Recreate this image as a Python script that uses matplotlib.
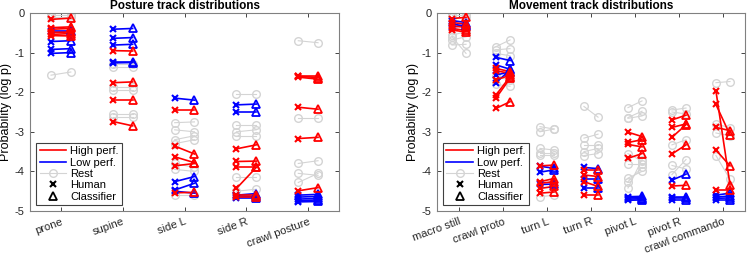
import matplotlib.pyplot as plt
from matplotlib.lines import Line2D

plt.rcParams['font.family'] = ['Liberation Sans', 'DejaVu Sans']
plt.rcParams['axes.unicode_minus'] = False

posture_cats = ["prone", "supine", "side L", "side R", "crawl posture"]
movement_cats = ["macro still", "crawl proto", "turn L", "turn R", "pivot L", "pivot R", "crawl commando"]

# each entry: one category, human values and classifier values (log p)
posture_high_h = [[-0.16, -0.37, -0.41, -0.49, -0.54, -0.57], [-0.95, -1.76, -2.2, -2.74],
                  [-2.45, -3.36, -3.63, -3.86, -4.54], [-3.43, -3.75, -3.9, -4.43, -4.64, -4.6],
                  [-1.59, -1.62, -1.6, -2.38, -3.17, -4.49]]
posture_high_c = [[-0.13, -0.35, -0.39, -0.48, -0.52, -0.58], [-0.96, -1.74, -2.2, -2.85],
                  [-2.45, -3.56, -3.78, -3.8, -4.53], [-3.33, -3.74, -3.9, -3.9, -4.64, -4.6],
                  [-1.59, -1.67, -1.63, -2.43, -3.14, -4.41]]
posture_low_h = [[-0.45, -0.72, -0.92, -1.02], [-0.41, -0.64, -0.81, -1.23, -1.26],
                 [-2.15, -4.26, -4.47, -4.5], [-2.32, -2.49, -4.6, -4.62, -4.68],
                 [-4.6, -4.65, -4.7, -4.74, -4.77]]
posture_low_c = [[-0.45, -0.7, -0.9, -1.0], [-0.39, -0.62, -0.79, -1.23, -1.25],
                 [-2.2, -4.13, -4.3, -4.55], [-2.3, -2.49, -4.56, -4.63, -4.68],
                 [-4.58, -4.63, -4.68, -4.72, -4.76]]
posture_rest_h = [[-0.05, -0.1, -1.57], [-1.28, -1.36, -1.86, -1.94, -2.55, -2.62],
                  [-2.77, -2.95, -3.2, -3.3, -3.8, -3.95, -4.6], [-2.05, -2.83, -3.0, -3.1, -4.13, -4.5],
                  [-0.7, -2.64, -3.8, -4.05, -4.28]]
posture_rest_c = [[-0.05, -0.1, -1.49], [-1.28, -1.36, -1.86, -1.94, -2.55, -2.62],
                  [-2.75, -3.0, -3.1, -3.2, -3.9, -4.0, -4.6], [-2.05, -2.83, -2.95, -3.1, -4.13, -4.45],
                  [-0.75, -2.64, -3.73, -4.1, -4.05]]

movement_high_h = [[-0.14, -0.24, -0.33, -0.39, -0.43], [-1.40, -1.46, -1.69, -2.07, -2.15, -2.41],
                   [-3.86, -4.26, -4.3, -4.43, -4.55], [-3.96, -4.09, -4.26, -4.6],
                   [-3.01, -3.27, -3.32, -3.67], [-2.7, -2.89, -3.14, -3.56, -4.37],
                   [-1.97, -2.31, -2.89, -3.46, -4.47]]
movement_high_c = [[-0.11, -0.28, -0.36, -0.44, -0.48], [-1.48, -1.52, -1.57, -1.61, -1.65, -2.24],
                   [-3.84, -4.18, -4.26, -4.38, -4.52], [-3.96, -4.13, -4.38, -4.6],
                   [-3.12, -3.2, -3.38, -3.55], [-2.58, -2.8, -2.82, -3.33, -4.35],
                   [-4.34, -3.08, -2.97, -3.86, -4.47]]
movement_low_h = [[-0.19, -0.28, -0.36], [-1.12, -1.31, -1.57, -1.76], [-3.87, -4.02, -4.33],
                  [-3.9, -4.19, -4.41], [-4.64, -4.67, -4.7, -4.73], [-4.22, -4.64, -4.67, -4.71],
                  [-4.6, -4.65, -4.68, -4.72]]
movement_low_c = [[-0.24, -0.33, -0.3], [-1.2, -1.42, -1.48, -1.44], [-3.92, -3.96, -4.32],
                  [-3.93, -4.19, -4.41], [-4.63, -4.66, -4.69, -4.72], [-4.07, -4.64, -4.67, -4.71],
                  [-4.55, -4.62, -4.67, -4.72]]
movement_rest_h = [[-0.05, -0.1, -0.56, -0.68, -0.81, -0.6], [-0.85, -0.93, -1.02, -1.8, -1.6],
                   [-2.87, -3.0, -3.42, -3.54, -3.58, -4.64], [-2.36, -3.16, -3.33, -3.5, -3.6],
                   [-2.39, -2.64, -2.66, -3.55, -3.81, -4.17, -4.42, -4.26],
                   [-2.45, -3.33, -3.85, -4.08, -2.5], [-1.76, -2.8, -3.03, -3.6]]
movement_rest_c = [[-0.05, -0.1, -0.47, -0.6, -0.79, -1.02], [-0.68, -0.9, -1.08, -1.85, -1.7],
                   [-2.93, -2.93, -3.46, -3.54, -3.58, -4.6], [-2.63, -3.06, -3.33, -3.42, -3.55],
                   [-2.22, -2.48, -2.6, -3.74, -3.81, -4.0, -3.7, -3.9],
                   [-2.4, -3.2, -3.94, -3.7, -2.55], [-1.73, -2.9, -3.1, -4.2]]

RED = '#ff0000'
BLUE = '#0000ff'
GRAY = '#d4d4d4'
OFF = 0.16


def draw_group(ax, hum, cla, color, rest=False):
    for i, (hv, cv) in enumerate(zip(hum, cla)):
        for h, c in zip(hv, cv):
            xs = [i + 1 - OFF, i + 1 + OFF]
            if rest:
                ax.plot(xs, [h, c], color=GRAY, lw=0.8, marker='o', ms=5.5,
                        mfc='none', mec=GRAY, mew=1.0, zorder=2)
            else:
                ax.plot(xs, [h, c], color=color, lw=1.2, zorder=3)
                ax.plot(xs[0], h, marker='x', ms=4, mew=1.5, color=color, zorder=4)
                ax.plot(xs[1], c, marker='^', ms=6, mew=1.3, mfc='none', mec=color, zorder=4)


def setup(ax, cats, title):
    ax.set_xlim(0.5, len(cats) + 0.5)
    ax.set_ylim(-5, 0)
    ax.set_yticks([0, -1, -2, -3, -4, -5])
    ax.set_xticks(range(1, len(cats) + 1))
    ax.set_xticklabels(cats, rotation=20, ha='right', va='top', rotation_mode='anchor')
    ax.tick_params(direction='in', top=True, right=True, length=3, width=0.6,
                   labelsize=8, colors='#262626', pad=4)
    for s in ax.spines.values():
        s.set_color('#808080')
        s.set_linewidth(0.8)
    ax.set_title(title, fontsize=8.5, fontweight='bold', pad=3)
    ax.set_ylabel("Probability (log p)", fontsize=9, labelpad=2)
    handles = [Line2D([], [], color=RED, lw=1.2),
               Line2D([], [], color=BLUE, lw=1.2),
               Line2D([], [], color=GRAY, lw=0.8, marker='o', ms=5.5, mfc='none', mec=GRAY),
               Line2D([], [], ls='none', marker='x', ms=4, mew=1.5, color='black'),
               Line2D([], [], ls='none', marker='^', ms=6, mew=1.3, mfc='none', mec='black')]
    leg = ax.legend(handles, ["High perf.", "Low perf.", "Rest", "Human", "Classifier"],
                    loc='lower left', bbox_to_anchor=(0.02, 0.03), fontsize=8,
                    handlelength=2.4, handletextpad=0.36, labelspacing=0.12,
                    borderpad=0.3, fancybox=False, framealpha=1, borderaxespad=0)
    leg.get_frame().set_edgecolor('#404040')
    leg.get_frame().set_linewidth(0.8)


fig = plt.figure(figsize=(7.47, 2.56), dpi=100)
ax1 = fig.add_axes([0.0402, 0.1758, 0.4137, 0.7734])
ax2 = fig.add_axes([0.585, 0.1758, 0.4123, 0.7734])

draw_group(ax1, posture_rest_h, posture_rest_c, GRAY, rest=True)
draw_group(ax1, posture_low_h, posture_low_c, BLUE)
draw_group(ax1, posture_high_h, posture_high_c, RED)
setup(ax1, posture_cats, "Posture track distributions")

draw_group(ax2, movement_rest_h, movement_rest_c, GRAY, rest=True)
draw_group(ax2, movement_low_h, movement_low_c, BLUE)
draw_group(ax2, movement_high_h, movement_high_c, RED)
setup(ax2, movement_cats, "Movement track distributions")

fig.savefig("out.png", dpi=100)
